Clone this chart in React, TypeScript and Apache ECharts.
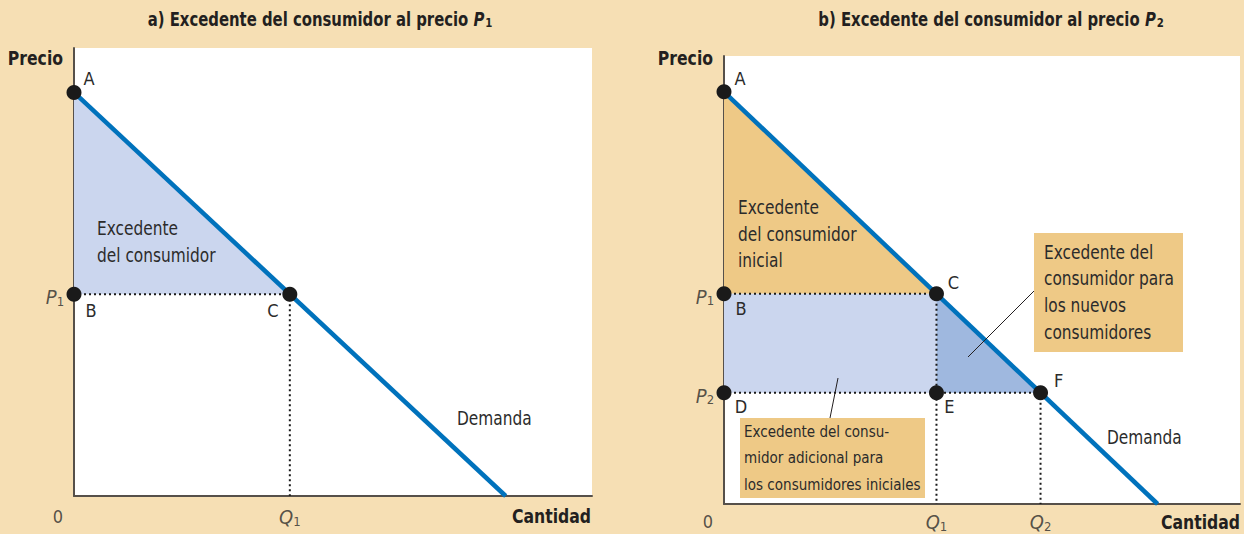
import React, { useEffect, useRef } from "react";
import * as echarts from "echarts";

const FONT = "'DejaVu Sans Condensed', 'Liberation Sans Narrow', 'Noto Sans', sans-serif";
const TXT = "#2b2b2b";
const DARK = "#231f20";
const BG = "#f6dfb4";
const BLUE = "#0072bc";
const LIGHT_BLUE = "#cbd6ee";
const MID_BLUE = "#9fb8df";
const ORANGE = "#eec986";

// ---- data: panel a ----
const demandA = [[0, 100], [100, 0]];
const P1a = 50;
const Q1a = 50;
const pointsA = [
  { name: "A", value: [0, 100] },
  { name: "B", value: [0, P1a] },
  { name: "C", value: [Q1a, P1a] },
];
const surplusA = [[0, 100], [0, P1a], [Q1a, P1a]];
const dottedA = [
  [[0, P1a], [Q1a, P1a]],
  [[Q1a, P1a], [Q1a, 0]],
];
const ticksA = [
  { name: "0", value: [0, 0] },
  { name: "Q1", value: [Q1a, 0] },
  { name: "P1", value: [0, P1a] },
];

// ---- data: panel b ----
const demandB = [[0, 100], [100, 0]];
const P1b = 51;
const Q1b = 49;
const P2b = 27;
const Q2b = 73;
const pointsB = [
  { name: "A", value: [0, 100] },
  { name: "B", value: [0, P1b] },
  { name: "C", value: [Q1b, P1b] },
  { name: "D", value: [0, P2b] },
  { name: "E", value: [Q1b, P2b] },
  { name: "F", value: [Q2b, P2b] },
];
const initialSurplusB = [[0, 100], [0, P1b], [Q1b, P1b]];
const extraSurplusB = [[0, P1b], [Q1b, P1b], [Q1b, P2b], [0, P2b]];
const newSurplusB = [[Q1b, P1b], [Q1b, P2b], [Q2b, P2b]];
const dottedB = [
  [[0, P1b], [Q1b, P1b]],
  [[0, P2b], [Q2b, P2b]],
  [[Q1b, P1b], [Q1b, 0]],
  [[Q2b, P2b], [Q2b, 0]],
];
const ticksB = [
  { name: "0", value: [0, 0] },
  { name: "Q1", value: [Q1b, 0] },
  { name: "Q2", value: [Q2b, 0] },
  { name: "P1", value: [0, P1b] },
  { name: "P2", value: [0, P2b] },
];

// label offsets (style)
const ptOffsetA: Record<string, number[]> = { A: [15, -14], B: [17, 16], C: [-17, 16] };
const ptOffsetB: Record<string, number[]> = {
  A: [16, -13], B: [17, 15], C: [17, -11], D: [17, 14], E: [13, 14], F: [18, -12],
};

const richTick = {
  n: { fontFamily: FONT, fontSize: 18, color: TXT },
  i: { fontFamily: FONT, fontSize: 20, fontStyle: "italic", color: TXT },
  s: { fontFamily: FONT, fontSize: 13, color: TXT, padding: [8, 0, 0, 0] },
};

function tickSeries(idx: number, ticks: { name: string; value: number[] }[], bottomGap: number) {
  return {
    type: "scatter",
    xAxisIndex: idx,
    yAxisIndex: idx,
    symbolSize: 0,
    silent: true,
    z: 6,
    data: ticks.map((t) => {
      const isZero = t.name === "0";
      const isP = t.name[0] === "P";
      const text = isZero ? "{n|0}" : `{i|${t.name[0]}}{s|${t.name.slice(1)}}`;
      const offset = isZero ? [-16, bottomGap] : isP ? [-19, 3] : [0, bottomGap + 1];
      return {
        value: t.value,
        label: { show: true, position: "inside", offset, formatter: text, rich: richTick },
      };
    }),
  };
}

function pointSeries(idx: number, pts: { name: string; value: number[] }[], offs: Record<string, number[]>) {
  return {
    type: "scatter",
    xAxisIndex: idx,
    yAxisIndex: idx,
    symbolSize: 15,
    itemStyle: { color: "#1a1a1a", opacity: 1 },
    z: 8,
    silent: true,
    data: pts.map((p) => ({
      name: p.name,
      value: p.value,
      label: {
        show: true,
        position: "inside",
        offset: offs[p.name],
        formatter: p.name,
        fontFamily: FONT,
        fontSize: 18,
        color: TXT,
      },
    })),
  };
}

function polySeries(idx: number, pts: number[][], color: string) {
  return {
    type: "custom",
    xAxisIndex: idx,
    yAxisIndex: idx,
    silent: true,
    z: 1,
    data: [[0, 0]],
    renderItem: (_p: any, api: any) => ({
      type: "polygon",
      shape: { points: pts.map((pt) => api.coord(pt)) },
      style: { fill: color },
    }),
  };
}

function dottedSeries(idx: number, seg: number[][]) {
  return {
    type: "line",
    xAxisIndex: idx,
    yAxisIndex: idx,
    symbol: "none",
    silent: true,
    z: 3,
    data: seg,
    lineStyle: { color: "#1a1a1a", width: 2, type: [2, 3] },
  };
}

function demandSeries(idx: number, d: number[][]) {
  return {
    type: "line",
    xAxisIndex: idx,
    yAxisIndex: idx,
    symbol: "none",
    silent: true,
    z: 4,
    data: d,
    lineStyle: { color: BLUE, width: 4.5 },
  };
}

function axisOf(idx: number, max: number) {
  return {
    type: "value",
    gridIndex: idx,
    min: 0,
    max,
    axisLine: { show: true, lineStyle: { color: "#56504a", width: 2 } },
    axisTick: { show: false },
    axisLabel: { show: false },
    splitLine: { show: false },
  };
}

const titleRich = {
  b: { fontFamily: FONT, fontSize: 19, fontWeight: "bold", fill: DARK },
  bi: { fontFamily: FONT, fontSize: 19, fontWeight: "bold", fontStyle: "italic", fill: DARK },
  bs: { fontFamily: FONT, fontSize: 13, fontWeight: "bold", fill: DARK, padding: [8, 0, 0, 1] },
};

function txt(x: number, y: number, text: string, opts: any = {}, sx = 0.9) {
  return {
    type: "text",
    x,
    y,
    scaleX: sx,
    z: 100,
    silent: true,
    style: {
      text,
      fill: TXT,
      fontFamily: FONT,
      fontSize: 19,
      textAlign: "left",
      textVerticalAlign: "middle",
      ...opts,
    },
  };
}

const bold = { textAlign: "right", fontWeight: "bold", fontSize: 20, fill: DARK };

export default function App() {
  const ref = useRef<HTMLDivElement>(null);
  useEffect(() => {
    if (!ref.current) return;
    const chart = echarts.init(ref.current, undefined, { renderer: "svg" });
    const option: any = {
      animation: false,
      backgroundColor: BG,
      grid: [
        { left: 74, top: 48, width: 518, height: 448, show: true, backgroundColor: "#fff", borderWidth: 0 },
        { left: 724, top: 56, width: 516, height: 448, show: true, backgroundColor: "#fff", borderWidth: 0 },
      ],
      xAxis: [axisOf(0, 120), axisOf(1, 119)],
      yAxis: [axisOf(0, 111), axisOf(1, 108.7)],
      series: [
        polySeries(0, surplusA, LIGHT_BLUE),
        ...dottedA.map((s) => dottedSeries(0, s)),
        demandSeries(0, demandA),
        pointSeries(0, pointsA, ptOffsetA),
        tickSeries(0, ticksA, 20),

        polySeries(1, initialSurplusB, ORANGE),
        polySeries(1, extraSurplusB, LIGHT_BLUE),
        polySeries(1, newSurplusB, MID_BLUE),
        ...dottedB.map((s) => dottedSeries(1, s)),
        demandSeries(1, demandB),
        pointSeries(1, pointsB, ptOffsetB),
        tickSeries(1, ticksB, 17),
      ],
      graphic: [
        // titles
        {
          type: "text", x: 320, y: 19, scaleX: 0.87, z: 100, silent: true,
          style: {
            text: "{b|a) Excedente del consumidor al precio }{bi|P}{bs|1}",
            rich: titleRich, textAlign: "center", textVerticalAlign: "middle",
          },
        },
        {
          type: "text", x: 991, y: 19, scaleX: 0.87, z: 100, silent: true,
          style: {
            text: "{b|b) Excedente del consumidor al precio }{bi|P}{bs|2}",
            rich: titleRich, textAlign: "center", textVerticalAlign: "middle",
          },
        },
        // axis names
        txt(63, 58, "Precio", bold, 0.87),
        txt(591, 516, "Cantidad", bold, 0.87),
        txt(713, 58, "Precio", bold, 0.87),
        txt(1240, 522, "Cantidad", bold, 0.87),
        // panel a annotations
        txt(97, 228, "Excedente"),
        txt(97, 255, "del consumidor"),
        txt(457, 418, "Demanda"),
        // panel b annotations
        txt(738, 207, "Excedente"),
        txt(738, 234, "del consumidor"),
        txt(738, 260, "inicial"),
        txt(1107, 437, "Demanda"),
        // leader lines
        { type: "line", z: 99, silent: true, shape: { x1: 1034, y1: 291, x2: 968, y2: 357 }, style: { stroke: DARK, lineWidth: 1 } },
        { type: "line", z: 99, silent: true, shape: { x1: 838, y1: 378, x2: 830, y2: 418 }, style: { stroke: DARK, lineWidth: 1 } },
        // boxes
        { type: "rect", z: 98, silent: true, shape: { x: 1034, y: 233, width: 149, height: 119 }, style: { fill: ORANGE } },
        txt(1044, 252, "Excedente del"),
        txt(1044, 278, "consumidor para"),
        txt(1044, 305, "los nuevos"),
        txt(1044, 332, "consumidores"),
        { type: "rect", z: 98, silent: true, shape: { x: 740, y: 418, width: 185, height: 80 }, style: { fill: ORANGE } },
        txt(744, 432, "Excedente del consu-", { fontSize: 16 }, 0.94),
        txt(744, 458, "midor adicional para", { fontSize: 16 }, 0.94),
        txt(744, 485, "los consumidores iniciales", { fontSize: 16 }, 0.94),
      ],
    };
    chart.setOption(option);
    return () => chart.dispose();
  }, []);
  return (
    <div
      ref={ref}
      style={{ position: "fixed", left: 0, top: 0, width: 1244, height: 534 }}
    />
  );
}
